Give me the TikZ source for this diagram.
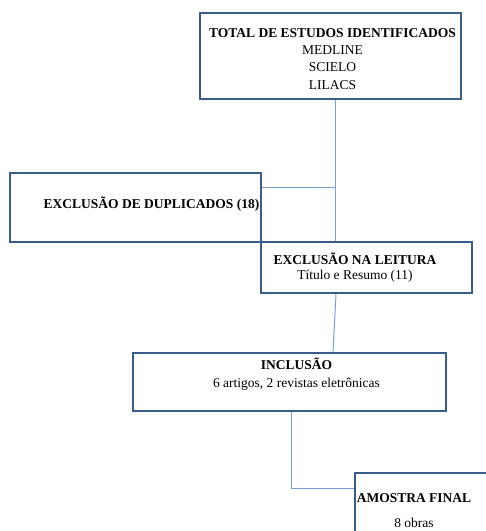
\documentclass[tikz,border=0pt]{standalone}
\usepackage{fontspec}
\setmainfont{Liberation Serif}
\usetikzlibrary{positioning}
\definecolor{boxblue}{RGB}{56,93,138}
\definecolor{linkblue}{RGB}{120,160,215}

\begin{document}
\begin{tikzpicture}[x=1pt,y=-1pt,
    box/.style={draw=boxblue, line width=2pt, rectangle, inner sep=0pt},
    link/.style={draw=linkblue, line width=1pt},
    lbl/.style={font=\fontsize{13.5}{17.3}\selectfont, align=center, anchor=base, inner sep=0pt}]
  \clip (0,0) rectangle (486,531);

  % Boxes
  \node[box, minimum width=261pt, minimum height=86pt] (tot) at (330.5,56) {};
  \node[box, minimum width=251pt, minimum height=69pt] (dup) at (135.5,207.5) {};
  \node[box, minimum width=211pt, minimum height=51pt] (leit) at (366.5,267.5) {};
  \node[box, minimum width=313pt, minimum height=58pt] (inc) at (289.5,382) {};
  \node[box, minimum width=200pt, minimum height=120pt, anchor=north west] (amo) at (354,472) {};

  % Texts (base = last line)
  \node[lbl] (totT) at (332.5,89) {\textbf{TOTAL DE ESTUDOS IDENTIFICADOS}\\MEDLINE\\SCIELO\\LILACS};
  \node[lbl] (dupT) at (151.5,208) {\textbf{EXCLUSÃO DE DUPLICADOS (18)}};
  \node[lbl] (leitT) at (355,279) {\textbf{EXCLUSÃO NA LEITURA}\\[-2.3pt]Título e Resumo (11)};
  \node[lbl] (incT) at (296.5,387) {\textbf{INCLUSÃO}\\[0.7pt]6 artigos, 2 revistas eletrônicas};
  \node[lbl] (amoT) at (414,527) {\textbf{AMOSTRA FINAL}\\[7.2pt]8 obras};

  % Connectors
  \coordinate (jn) at ([xshift=4.5pt]tot.south);
  \draw[link] (jn) -- (jn |- leit.north);
  \draw[link] ([yshift=20.5pt]dup.east) -- ([yshift=20.5pt]dup.east -| jn);
  \draw[link] ([xshift=-30.5pt]leit.south) -- ([xshift=43.5pt]inc.north);
  \draw[link] ([xshift=1.5pt]inc.south) |- ([yshift=-16pt]amo.north west);
\end{tikzpicture}
\end{document}
